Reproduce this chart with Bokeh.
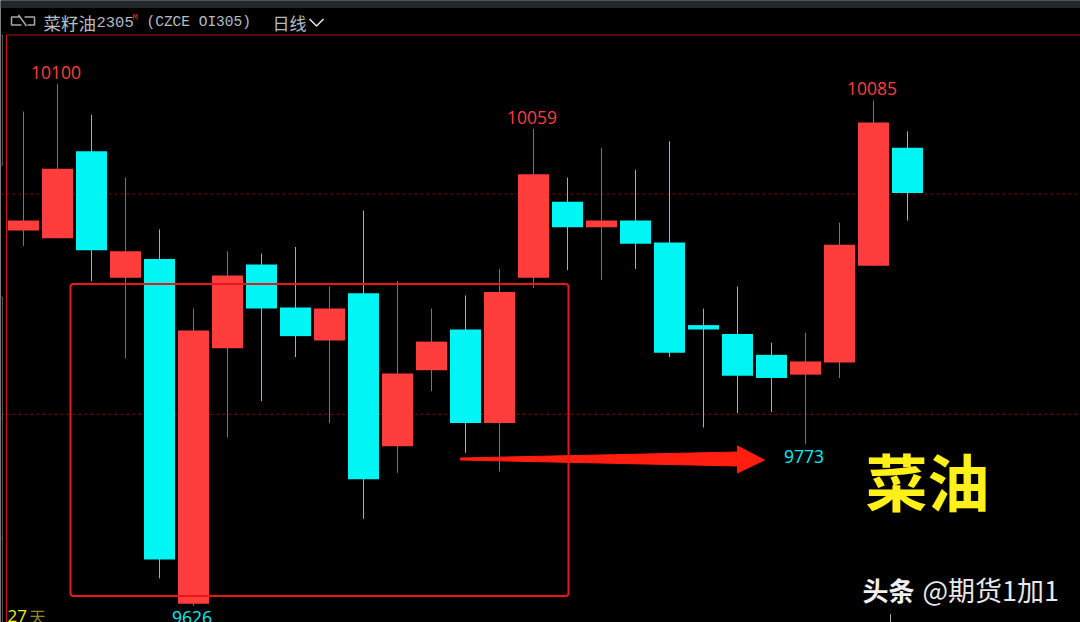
from bokeh.plotting import figure
from bokeh.models import Range1d, Span, BoxAnnotation, Label, ColumnDataSource
from bokeh.embed import file_html
from bokeh.resources import INLINE

# ---- data: daily OHLC of rapeseed oil 2305 ----
opens = [9967, 9960, 10039, 9924, 9941, 9628, 9860, 9936, 9897, 9867, 9910, 9771, 9840, 9877, 9792,
         9924, 9993, 9970, 9976, 9956, 9881, 9873, 9854, 9836, 9847, 9935, 10042]
closes = [9976, 10023, 9949, 9948, 9668, 9876, 9926, 9896, 9871, 9896, 9741, 9837, 9866, 9792, 9911,
          10018, 9970, 9976, 9955, 9856, 9877, 9835, 9833, 9848, 9954, 10065, 10001]
highs = [10075, 10100, 10072, 10015, 9968, 9896, 9948, 9946, 9952, 9916, 9985, 9921, 9896, 9908, 9932,
         10059, 10015, 10042, 10022, 10048, 9896, 9916, 9865, 9874, 9974, 10085, 10057]
lows = [9953, 9960, 9921, 9851, 9651, 9626, 9779, 9812, 9852, 9792, 9705, 9747, 9821, 9765, 9748,
        9915, 9931, 9922, 9932, 9852, 9788, 9801, 9802, 9773, 9833, 9935, 9976]
up_flags = [c > o for o, c in zip(opens, closes)]
grid_prices = [10000, 9800]
high_labels = [(1, 10100), (15, 10059), (25, 10085)]
low_labels = [(5, 9626), (23, 9773)]
title_name = "菜籽油2305"
title_code = "(CZCE OI305)"
title_period = "日线"

RED, CYAN = "#ff3d3d", "#00f5f5"
W, H = 1080, 622

# page-pixel helpers, used only for overlay decoration placement
xd = lambda px: (px - 23) / 34
yd = lambda py: 10176.3 - 0.9083 * py

p = figure(width=W, height=H, output_backend="svg", toolbar_location=None,
           x_range=Range1d(xd(0), xd(W)), y_range=Range1d(yd(H + 0.5), yd(0.5)),
           x_axis_type=None, y_axis_type=None, min_border=0,
           background_fill_color="#000000", border_fill_color="#000000",
           outline_line_color=None)
p.grid.visible = False

for g in grid_prices:
    p.add_layout(Span(location=g, dimension="width", line_color="#7a1010", line_width=1,
                      line_dash="3 3", level="underlay"))

n = list(range(len(opens)))
src = ColumnDataSource(dict(
    x=n, high=highs, low=lows,
    top=[max(o, c) for o, c in zip(opens, closes)],
    bottom=[min(o, c) for o, c in zip(opens, closes)],
    color=[RED if u else CYAN for u in up_flags]))
p.segment("x", "high", "x", "low", line_color="color", line_width=1, source=src)
p.vbar("x", width=31 / 34, top="top", bottom="bottom", fill_color="color", line_color=None, source=src)

# header band
p.add_layout(BoxAnnotation(left=xd(0), right=xd(1080), top=yd(0), bottom=yd(8), fill_color="#22282c",
                           fill_alpha=1, line_alpha=0, level="underlay"))
p.line([xd(6), xd(1080)], [yd(35), yd(35)], line_color="#c01010", line_width=1)
p.line([xd(6), xd(6)], [yd(35), yd(622)], line_color="#d01515", line_width=1)
# left price-scale fragments
GREY = "#555555"
p.line([xd(0), xd(2), xd(2), xd(0)], [yd(35), yd(35), yd(165), yd(165)], line_color=GREY, line_width=1)
p.line([xd(0), xd(2), xd(2)], [yd(297), yd(297), yd(622)], line_color=GREY, line_width=1)
p.line([xd(0), xd(2)], [yd(418), yd(418)], line_color=GREY, line_width=1)
p.line([xd(0), xd(2)], [yd(538), yd(538)], line_color=GREY, line_width=1)

TF = "Noto Sans CJK SC"
def lab(x, y, t, size, color, font=TF, style="normal", align="left"):
    p.add_layout(Label(x=xd(x), y=yd(y), text=t, text_font=font, text_font_size=f"{size}px",
                       text_color=color, text_baseline="middle", text_align=align, text_font_style=style))

lab(43, 22, title_name[:3], 17.5, "#b4bcc4")
lab(96, 22, title_name[3:], 15.5, "#b4bcc4", "Liberation Mono")
lab(132, 18, "M", 9, "#e03030", "Liberation Mono")
lab(146, 22, title_code, 14.5, "#b4bcc4", "Liberation Mono")
lab(272, 22, title_period, 17, "#b4bcc4")
p.line([xd(309), xd(316), xd(323)], [yd(19), yd(26), yd(19)], line_color="#e8e8e8", line_width=1.5)
# link icon
ICON = "#a8a8a8"
p.line([xd(20), xd(11), xd(11), xd(21)], [yd(17), yd(17), yd(25), yd(25)], line_color=ICON, line_width=1.5)
p.line([xd(24), xd(34), xd(34), xd(27)], [yd(17), yd(17), yd(25), yd(25)], line_color=ICON, line_width=1.5)
p.line([xd(18), xd(26)], [yd(15), yd(26)], line_color=ICON, line_width=1.5)

for i, v in high_labels:
    p.add_layout(Label(x=i, y=v, x_offset=-1.5, y_offset=12, text=str(v), text_color="#ff3d3d", text_font="Open Sans",
                       text_font_size="17.5px", text_align="center", text_baseline="alphabetic"))
for i, v in low_labels:
    p.add_layout(Label(x=i, y=v, x_offset=-1.5, y_offset=-12, text=str(v), text_color="#00f0f0", text_font="Open Sans",
                       text_font_size="17.5px", text_align="center", text_baseline="alphabetic"))

p.add_layout(Label(x=xd(7), y=yd(616), text="27", text_font="Open Sans", text_font_size="17px",
                   text_color="#f0f020", text_baseline="alphabetic"))
p.add_layout(Label(x=xd(29), y=yd(616), text="天", text_font=TF, text_font_size="16px",
                   text_color="#8a8a20", text_baseline="alphabetic"))

# analyst overlays
p.add_layout(BoxAnnotation(left=xd(70), right=xd(568), top=yd(284), bottom=yd(596), fill_alpha=0,
                           line_color="#e81818", line_alpha=1, line_width=2, border_radius=3))
p.patch([xd(460), xd(737), xd(737), xd(764), xd(737), xd(737), xd(460)],
        [yd(458), yd(452), yd(446), yd(460), yd(473), yd(466), yd(460)],
        fill_color="#ff1e10", line_color="#ff1e10", line_width=1)
lab(865, 480, "菜油", 62, "#fff01a", TF, "bold")
lab(862, 589, "头条", 26, "#f0f0f0", TF, "bold")
lab(922, 589, "@期货1加1", 27, "#e8e8e8", TF)
p.line([xd(890), xd(890)], [yd(614), yd(622)], line_color="#b0b0b0", line_width=1)

open("out.html", "w").write(file_html(p, INLINE))
